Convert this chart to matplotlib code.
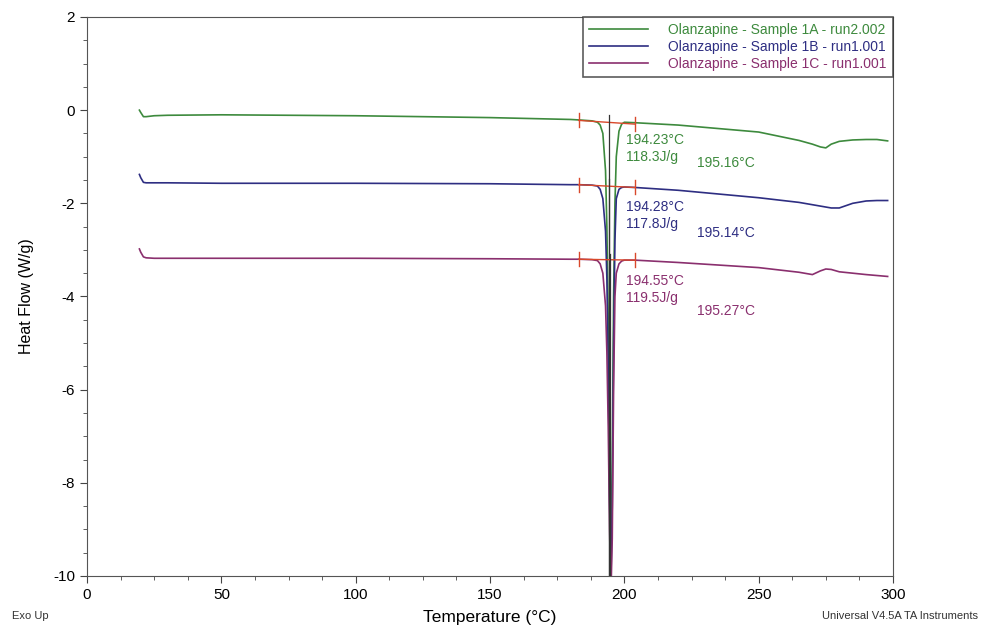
import numpy as np
import matplotlib.pyplot as plt
from matplotlib.ticker import MultipleLocator

plt.rcParams['font.family'] = ['Liberation Sans', 'DejaVu Sans']
plt.rcParams['axes.unicode_minus'] = False

# temperature (°C) and heat flow (W/g)
temp = [19.5, 20, 21, 22, 25, 30, 50, 100, 150, 180, 183, 188, 190, 191, 192, 193,
        193.5, 194, 194.5, 195, 195.5, 196, 196.5, 197, 198, 199, 200, 204, 220, 250,
        265, 270, 273, 275, 277, 280, 285, 290, 294, 298]
flow_1a = [0.0, -0.05, -0.14, -0.14, -0.12, -0.11, -0.1, -0.12, -0.16, -0.2, -0.21, -0.23,
           -0.26, -0.32, -0.5, -1.3, -2.5, -4.5, -7.5, -9.4, -7.5, -4.0, -2.0, -1.0, -0.45,
           -0.3, -0.26, -0.27, -0.32, -0.47, -0.65, -0.73, -0.79, -0.81, -0.73, -0.67, -0.64,
           -0.63, -0.63, -0.66]
flow_1b = [-1.38, -1.45, -1.55, -1.56, -1.56, -1.56, -1.57, -1.57, -1.58, -1.6, -1.6, -1.61,
           -1.63, -1.7, -1.9, -2.6, -3.6, -5.5, -8.3, -10.1, -8.5, -5.0, -2.8, -1.9, -1.7,
           -1.66, -1.65, -1.66, -1.72, -1.88, -1.98, -2.03, -2.06, -2.08, -2.1, -2.1, -2.0,
           -1.95, -1.94, -1.94]
flow_1c = [-2.98, -3.05, -3.15, -3.17, -3.18, -3.18, -3.18, -3.18, -3.19, -3.2, -3.2, -3.21,
           -3.23, -3.3, -3.5, -4.2, -5.2, -6.8, -9.0, -10.4, -9.2, -6.0, -4.0, -3.5, -3.3,
           -3.24, -3.22, -3.22, -3.27, -3.38, -3.48, -3.53, -3.45, -3.41, -3.42, -3.47, -3.5,
           -3.53, -3.55, -3.57]

labels = ["Olanzapine - Sample 1A - run2.002",
          "Olanzapine - Sample 1B - run1.001",
          "Olanzapine - Sample 1C - run1.001"]
colors = ["#3d8a3d", "#2e2e82", "#8a2f6e"]

# peak integration: limits, baseline ends, onset, enthalpy, peak temp
int_start = [183, 183, 183]
int_end = [204, 204, 204]
base_start = [-0.22, -1.6, -3.2]
base_end = [-0.3, -1.66, -3.22]
onset = ["194.23°C", "194.28°C", "194.55°C"]
onset_x = [194.23, 194.28, 194.55]
enthalpy = ["118.3J/g", "117.8J/g", "119.5J/g"]
peak = ["195.16°C", "195.14°C", "195.27°C"]
onset_lab_y = [-0.64, -2.08, -3.67]
peak_lab_y = [-1.14, -2.64, -4.31]

fig = plt.figure(figsize=(9.81, 6.29), dpi=100)
ax = fig.add_axes([0.0887, 0.0843, 0.8216, 0.8887])

for y, lab, c in zip([flow_1a, flow_1b, flow_1c], labels, colors):
    ax.plot(temp, y, color=c, lw=1.2, label=lab)

for i in range(3):
    ax.plot([int_start[i], int_end[i]], [base_start[i], base_end[i]], color="#d9482b", lw=1)
    for xx, yy in [(int_start[i], base_start[i]), (int_end[i], base_end[i])]:
        ax.plot([xx, xx], [yy - 0.15, yy + 0.15], color="#d9482b", lw=1)
    ax.plot([onset_x[i], onset_x[i]], [base_start[i] + 0.12, -10], color="#333333", lw=0.9)
    ax.text(200.5, onset_lab_y[i], onset[i], color=colors[i], fontsize=10, va="center")
    ax.text(200.5, onset_lab_y[i] - 0.37, enthalpy[i], color=colors[i], fontsize=10, va="center")
    ax.text(227, peak_lab_y[i], peak[i], color=colors[i], fontsize=10, va="center")

ax.set_xlim(0, 300)
ax.set_ylim(-10, 2)
ax.xaxis.set_major_locator(MultipleLocator(50))
ax.xaxis.set_minor_locator(MultipleLocator(12.5))
ax.yaxis.set_major_locator(MultipleLocator(2))
ax.yaxis.set_minor_locator(MultipleLocator(0.5))
ax.tick_params(labelsize=11, color="#444444", length=5)
ax.tick_params(which="minor", length=3, color="#444444")
for s in ax.spines.values():
    s.set_color("#555555")
ax.set_xlabel("Temperature (°C)", fontsize=12.5, labelpad=6)
ax.set_ylabel("Heat Flow (W/g)", fontsize=11.5, labelpad=14)

leg = ax.legend(loc="upper right", bbox_to_anchor=(1.0, 1.0), fontsize=10, labelcolor="linecolor",
                frameon=True, fancybox=False, borderaxespad=0, handlelength=4.2,
                handletextpad=1.5, labelspacing=0.2, borderpad=0.45)
leg.get_frame().set_edgecolor("#333333")
leg.get_frame().set_linewidth(1.2)

fig.text(12 / 981, 1 - 616 / 629, "Exo Up", fontsize=8, va="center", color="#333333")
fig.text(978 / 981, 1 - 616 / 629, "Universal V4.5A TA Instruments", fontsize=8,
         va="center", ha="right", color="#333333")

fig.savefig("out.png", dpi=100)
